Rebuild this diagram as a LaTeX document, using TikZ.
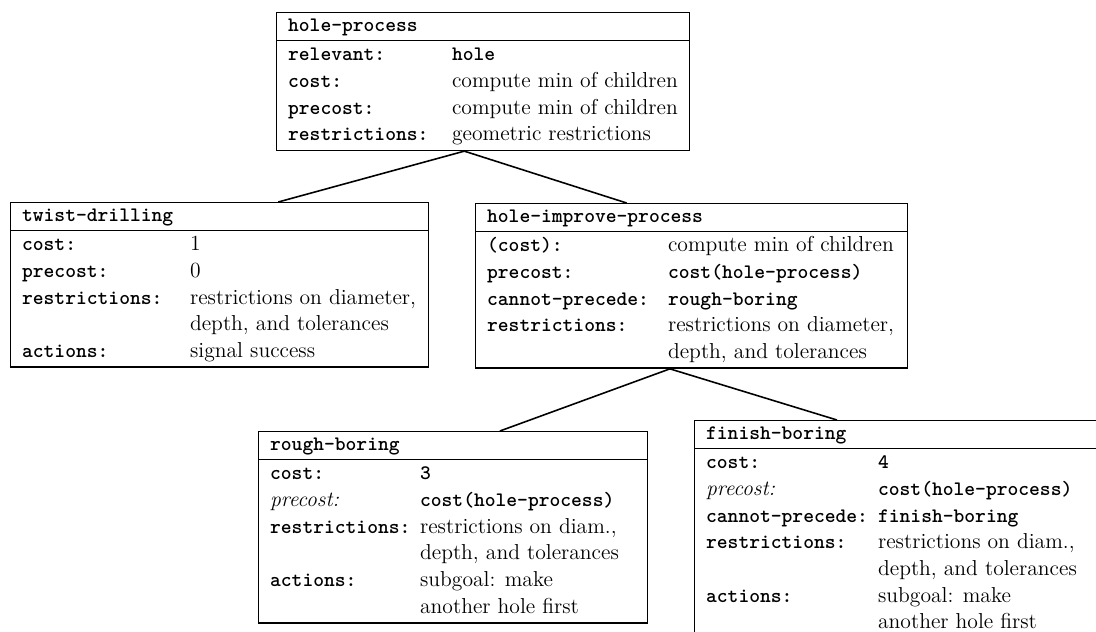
\documentclass[tikz,border=0pt]{standalone}
\usepackage{array}
\usetikzlibrary{shapes.multipart,calc,positioning}
\tikzset{
  frame/.style={draw, line width=0.8pt, rectangle split, rectangle split parts=2,
    rectangle split part align=left, anchor=north west,
    inner xsep=6.5pt, inner ysep=0.5pt,
    font=\fontsize{12.3}{15.2}\selectfont},
  link/.style={line width=0.9pt}
}
\newcommand{\ky}[1]{{\fontsize{11.7}{15.2}\selectfont\ttfamily\bfseries #1}}
\newcommand{\hd}[2]{\makebox[#1][l]{\rule[-4pt]{0pt}{14pt}\ky{#2}}}

\begin{document}
\begin{tikzpicture}[x=0.02cm, y=-0.02cm]
\useasboundingbox (0,0) rectangle (1096,632);
\clip (0,0) rectangle (1096,632);

% top frame
\node[frame] (proc) at (276,12) {\hd{7.76cm}{hole-process}
  \nodepart{two}\begin{tabular}{@{}p{3.28cm}@{}l@{}}
  \ky{relevant:} & \ky{hole}\\
  \ky{cost:} & compute min of children\\
  \ky{precost:} & compute min of children\\
  \ky{restrictions:} & geometric restrictions
  \end{tabular}};

% second level
\node[frame] (twist) at (10,202) {\hd{7.9cm}{twist-drilling}
  \nodepart{two}\begin{tabular}{@{}p{3.36cm}@{}l@{}}
  \ky{cost:} & 1\\
  \ky{precost:} & 0\\
  \ky{restrictions:} & restrictions on diameter,\\
   & depth, and tolerances\\
  \ky{actions:} & signal success
  \end{tabular}};

\node[frame] (improve) at (475,203) {\hd{8.18cm}{hole-improve-process}
  \nodepart{two}\begin{tabular}{@{}p{3.62cm}@{}l@{}}
  \ky{(cost):} & compute min of children\\
  \ky{precost:} & \ky{cost(hole-process)}\\
  \ky{cannot-precede:} & \ky{rough-boring}\\
  \ky{restrictions:} & restrictions on diameter,\\
   & depth, and tolerances
  \end{tabular}};

% third level
\node[frame] (rough) at (258,431) {\hd{7.32cm}{rough-boring}
  \nodepart{two}\begin{tabular}{@{}p{3.0cm}@{}l@{}}
  \ky{cost:} & \ky{3}\\
  \textit{precost:} & \ky{cost(hole-process)}\\
  \ky{restrictions:} & restrictions on diam.,\\
   & depth, and tolerances\\
  \ky{actions:} & subgoal: make\\
   & another hole first
  \end{tabular}};

\node[frame] (finish) at (694,420) {\hd{8.4cm}{finish-boring}
  \nodepart{two}\begin{tabular}{@{}p{3.44cm}@{}l@{}}
  \ky{cost:} & \ky{4}\\
  \textit{precost:} & \ky{cost(hole-process)}\\
  \ky{cannot-precede:} & \ky{finish-boring}\\
  \ky{restrictions:} & restrictions on diam.,\\
   & depth, and tolerances\\
  \ky{actions:} & subgoal: make\\
   & another hole first
  \end{tabular}};

% tree lines
\draw[link] ($(proc.south west)!0.455!(proc.south east)$) -- ($(twist.north west)!0.64!(twist.north east)$);
\draw[link] ($(proc.south west)!0.455!(proc.south east)$) -- ($(improve.north west)!0.35!(improve.north east)$);
\draw[link] ($(improve.south west)!0.45!(improve.south east)$) -- ($(rough.north west)!0.62!(rough.north east)$);
\draw[link] ($(improve.south west)!0.45!(improve.south east)$) -- ($(finish.north west)+(143,0)$);
\end{tikzpicture}
\end{document}
